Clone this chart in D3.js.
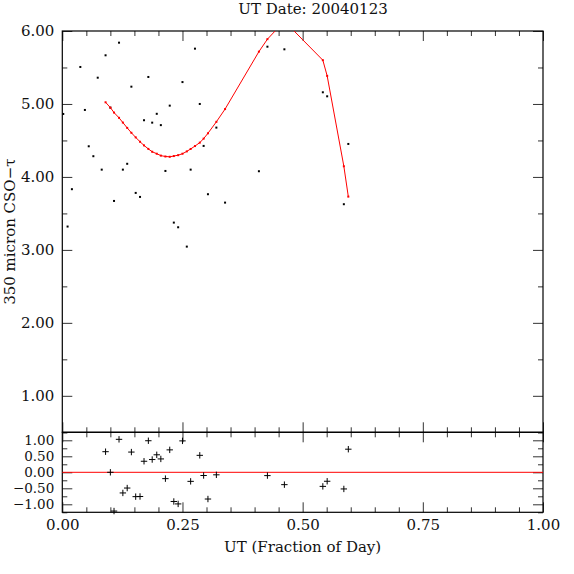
<!DOCTYPE html>
<html>
<head>
<meta charset="utf-8">
<script src="https://cdn.jsdelivr.net/npm/d3@7/dist/d3.min.js"></script>
<style>
  html, body { margin: 0; padding: 0; background: #fff; }
  svg { display: block; }
</style>
</head>
<body>
<svg id="chart" width="574" height="574"></svg>
<script>
// ---- Data ----
const titleText = "UT Date: 20040123";
const xLabelText = "UT (Fraction of Day)";
const yLabelText = "350 micron CSO\u2212\u03c4";

// UT as fraction of day, measured 350 micron CSO tau
const utFrac = [0.002, 0.011, 0.020, 0.0375, 0.047, 0.055, 0.0646, 0.0737, 0.082,
  0.090, 0.100, 0.1076, 0.118, 0.126, 0.135, 0.1437, 0.1527, 0.1617, 0.170,
  0.179, 0.187, 0.1965, 0.205, 0.2145, 0.2235, 0.232, 0.241, 0.250, 0.259,
  0.267, 0.276, 0.286, 0.294, 0.303, 0.3205, 0.3386, 0.409, 0.4267, 0.462,
  0.542, 0.551, 0.5857, 0.595];
const tau = [4.863, 3.320, 3.832, 5.507, 4.918, 4.420, 4.284, 5.360, 4.100,
  5.667, 4.950, 3.671, 5.840, 4.100, 4.180, 5.237, 3.781, 3.726, 4.777,
  5.370, 4.744, 4.865, 4.710, 4.082, 4.977, 3.374, 3.310, 5.300, 3.045,
  4.100, 5.758, 5.000, 4.425, 3.763, 4.676, 3.648, 4.078, 5.785, 5.749,
  5.160, 5.105, 3.626, 4.452];
// fitted tau at each point (null = not part of the fit)
const fitTau = [null, null, null, null, null, null, null, null, null,
  5.023, 4.950, 4.882, 4.810, 4.745, 4.672, 4.605, 4.542, 4.482, 4.432,
  4.384, 4.345, 4.318, 4.292, 4.280, 4.276, 4.286, 4.298, 4.318, 4.350,
  4.383, 4.423, 4.470, 4.525, 4.598, 4.755, 4.930, 5.717, 5.888, 6.135,
  5.600, 5.385, 4.146, 3.730];

const xMajorTicks = [0, 0.25, 0.5, 0.75, 1.0];
const yMainTicks = [1, 2, 3, 4, 5, 6];
const yResTicks = [-1, -0.5, 0, 0.5, 1];

// ---- Layout ----
const L = 62.3, R = 543, T = 31, MB = 432.3, RB = 512.3;
const FONT = "'DejaVu Serif', serif";
const FS = 15;
const FS_RES = 13.5;

const svg = d3.select("#chart");

const x = d3.scaleLinear().domain([0, 1]).range([L, R]);
const yMain = d3.scaleLinear().domain([0.5, 6]).range([MB, T]);
const yRes = d3.scaleLinear().domain([-1.25, 1.25]).range([RB, MB]);

const fmt = d3.format(".2f");

const xMinor = d3.range(0, 1.0001, 0.05).filter(v => !xMajorTicks.some(m => Math.abs(m - v) < 1e-6));
const yMainMinor = d3.range(0.5, 6.0001, 0.5).filter(v => !yMainTicks.some(m => Math.abs(m - v) < 1e-6));
const yResMinor = d3.range(-1.25, 1.2501, 0.25).filter(v => !yResTicks.some(m => Math.abs(m - v) < 1e-6));

function styleAxis(g, fs) {
  g.select(".domain").remove();
  g.selectAll(".tick line").attr("stroke", "#333").attr("stroke-width", 1);
  g.selectAll("text").attr("font-family", FONT).attr("font-size", fs).attr("fill", "#111");
  g.attr("font-family", FONT);
}

function addAxis(axis, transform, fs = FS) {
  const g = svg.append("g").attr("transform", transform).call(axis);
  styleAxis(g, fs);
  return g;
}

// ---- Main panel ticks ----
addAxis(d3.axisTop(x).tickValues(xMajorTicks).tickSize(-10).tickSizeOuter(0).tickFormat(""), `translate(0,${T})`);
addAxis(d3.axisTop(x).tickValues(xMinor).tickSize(-5).tickSizeOuter(0).tickFormat(""), `translate(0,${T})`);
addAxis(d3.axisBottom(x).tickValues(xMajorTicks).tickSize(-10).tickSizeOuter(0).tickFormat(""), `translate(0,${MB})`);
addAxis(d3.axisBottom(x).tickValues(xMinor).tickSize(-5).tickSizeOuter(0).tickFormat(""), `translate(0,${MB})`);
addAxis(d3.axisLeft(yMain).tickValues(yMainTicks).tickSize(-10).tickSizeOuter(0).tickPadding(8).tickFormat(fmt), `translate(${L},0)`);
addAxis(d3.axisLeft(yMain).tickValues(yMainMinor).tickSize(-5).tickSizeOuter(0).tickFormat(""), `translate(${L},0)`);
addAxis(d3.axisRight(yMain).tickValues(yMainTicks).tickSize(-10).tickSizeOuter(0).tickFormat(""), `translate(${R},0)`);
addAxis(d3.axisRight(yMain).tickValues(yMainMinor).tickSize(-5).tickSizeOuter(0).tickFormat(""), `translate(${R},0)`);

// ---- Residual panel ticks ----
addAxis(d3.axisTop(x).tickValues(xMajorTicks).tickSize(-10).tickSizeOuter(0).tickFormat(""), `translate(0,${MB})`);
addAxis(d3.axisTop(x).tickValues(xMinor).tickSize(-5).tickSizeOuter(0).tickFormat(""), `translate(0,${MB})`);
addAxis(d3.axisBottom(x).tickValues(xMajorTicks).tickSize(-10).tickSizeOuter(0).tickPadding(7).tickFormat(fmt), `translate(0,${RB})`);
addAxis(d3.axisBottom(x).tickValues(xMinor).tickSize(-5).tickSizeOuter(0).tickFormat(""), `translate(0,${RB})`);
addAxis(d3.axisLeft(yRes).tickValues(yResTicks).tickSize(-10).tickSizeOuter(0).tickPadding(8).tickFormat(fmt), `translate(${L},0)`, FS_RES);
addAxis(d3.axisLeft(yRes).tickValues(yResMinor).tickSize(-5).tickSizeOuter(0).tickFormat(""), `translate(${L},0)`);
addAxis(d3.axisRight(yRes).tickValues(yResTicks).tickSize(-10).tickSizeOuter(0).tickFormat(""), `translate(${R},0)`);
addAxis(d3.axisRight(yRes).tickValues(yResMinor).tickSize(-5).tickSizeOuter(0).tickFormat(""), `translate(${R},0)`);

// ---- Frames ----
svg.append("rect").attr("x", L).attr("y", T).attr("width", R - L).attr("height", MB - T)
  .attr("fill", "none").attr("stroke", "#000").attr("stroke-width", 1.2);
svg.append("rect").attr("x", L).attr("y", MB).attr("width", R - L).attr("height", RB - MB)
  .attr("fill", "none").attr("stroke", "#000").attr("stroke-width", 1.2);

// ---- Clip for the fit line ----
svg.append("clipPath").attr("id", "mainClip").append("rect")
  .attr("x", L).attr("y", T).attr("width", R - L).attr("height", MB - T);

const pts = utFrac.map((u, i) => ({ u, t: tau[i], f: fitTau[i] }));
const fitPts = pts.filter(d => d.f !== null);

// measured points
svg.append("g").selectAll("rect")
  .data(pts.filter(d => d.t >= 0.5 && d.t <= 6))
  .join("rect")
  .attr("x", d => x(d.u) - 1).attr("y", d => yMain(d.t) - 1)
  .attr("width", 2).attr("height", 2).attr("fill", "#000");

// fit line
svg.append("path").datum(fitPts)
  .attr("clip-path", "url(#mainClip)")
  .attr("fill", "none").attr("stroke", "#ff0000").attr("stroke-width", 1)
  .attr("d", d3.line().x(d => x(d.u)).y(d => yMain(d.f)));
svg.append("g").selectAll("rect")
  .data(fitPts.filter(d => d.f >= 0.5 && d.f <= 6))
  .join("rect")
  .attr("x", d => x(d.u) - 1).attr("y", d => yMain(d.f) - 1)
  .attr("width", 2).attr("height", 2).attr("fill", "#ff0000");

// residual zero line
svg.append("line").attr("x1", x(0)).attr("x2", x(1)).attr("y1", yRes(0)).attr("y2", yRes(0))
  .attr("stroke", "#ff0000").attr("stroke-width", 1);

// residual crosses
const resPts = fitPts.map(d => ({ u: d.u, r: d.t - d.f }))
  .filter(d => d.r >= -1.25 && d.r <= 1.25);
const arm = 3.2;
svg.append("g").selectAll("path")
  .data(resPts)
  .join("path")
  .attr("fill", "none").attr("stroke", "#000").attr("stroke-width", 1)
  .attr("d", d => {
    const cx = x(d.u), cy = yRes(d.r);
    return `M${cx - arm},${cy}H${cx + arm}M${cx},${cy - arm}V${cy + arm}`;
  });

// ---- Text ----
svg.append("text").attr("x", 313).attr("y", 14).attr("text-anchor", "middle")
  .attr("font-family", FONT).attr("font-size", FS).attr("fill", "#111").text(titleText);
svg.append("text").attr("x", (L + R) / 2).attr("y", 552).attr("text-anchor", "middle")
  .attr("font-family", FONT).attr("font-size", FS).attr("fill", "#111").text(xLabelText);
svg.append("text").attr("transform", `translate(15,${(T + MB) / 2}) rotate(-90)`)
  .attr("text-anchor", "middle")
  .attr("font-family", FONT).attr("font-size", FS).attr("fill", "#111").text(yLabelText);
</script>
</body>
</html>
